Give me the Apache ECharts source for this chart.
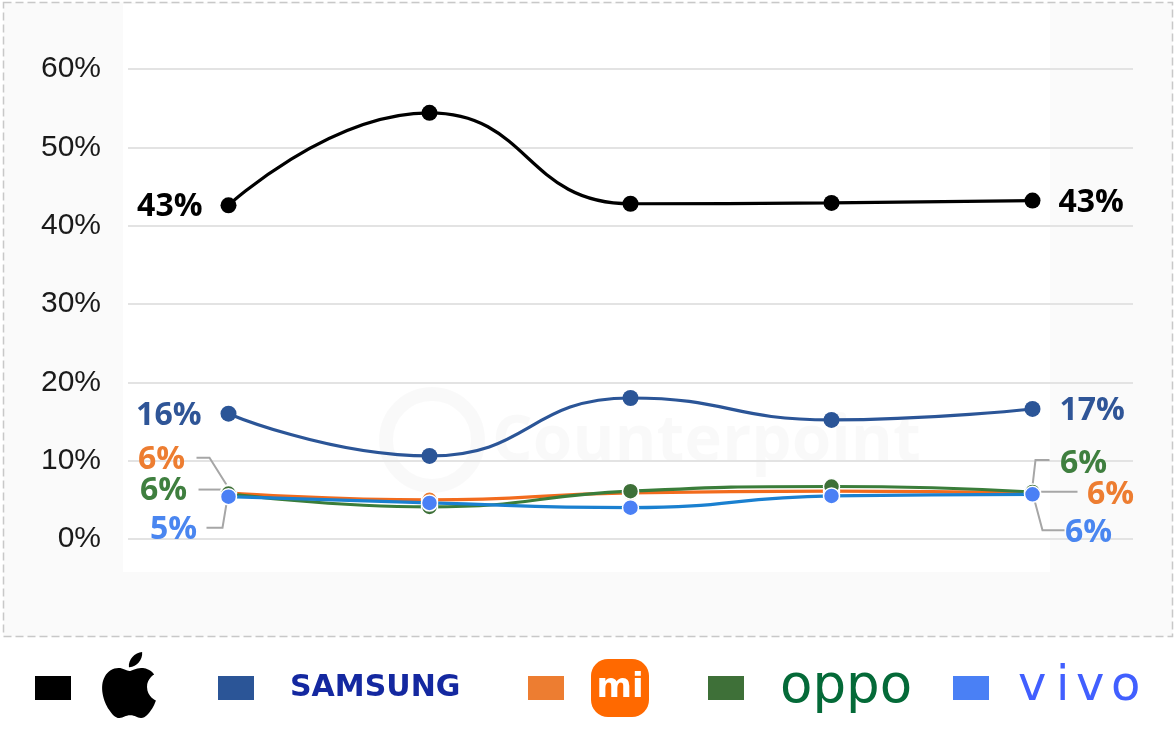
<!DOCTYPE html>
<html>
<head>
<meta charset="utf-8">
<script src="https://cdn.jsdelivr.net/npm/echarts@6/dist/echarts.min.js"></script>
<style>
html,body{margin:0;padding:0;background:#fff;}
#chart{width:1176px;height:754px;}
</style>
</head>
<body>
<div id="chart"></div>
<script>
// ---- data ----
const categories = ['P1', 'P2', 'P3', 'P4', 'P5'];
const appleShare   = [42.6, 54.4, 42.8, 42.9, 43.2];
const samsungShare = [16.0, 10.6, 18.0, 15.2, 16.6];
const xiaomiShare  = [5.9, 5.0, 5.9, 6.1, 5.9];
const oppoShare    = [5.8, 4.1, 6.1, 6.7, 6.0];
const vivoShare    = [5.4, 4.6, 4.0, 5.5, 5.7];
const brandNames   = ['Apple', 'Samsung', 'Xiaomi', 'OPPO', 'vivo'];
const yMin = 0, yMax = 60, yStep = 10;

// ---- styling ----
const labelFont = { fontFamily: 'Open Sans', fontWeight: 'bold', fontSize: 32 };
// label offsets and leader-line elbows, relative to the marker centre
const leaders = {
  Xiaomi: {
    left:  { dx: -67, dy: -33, line: [[-2, -8], [-19, -35], [-32, -35]] },
    right: { dx: 78, dy: 2, line: [[6, -1], [25, -1], [45, -1]] }
  },
  OPPO: {
    left:  { dx: -65, dy: -3, line: [[-6, -4], [-15, -4], [-30, -4]] },
    right: { dx: 51, dy: -28, line: [[0, -6], [3, -32], [17, -32]] }
  },
  vivo: {
    left:  { dx: -55, dy: 33, line: [[-2, 7], [-6, 31], [-22, 31]] },
    right: { dx: 56, dy: 39, line: [[2, 6], [10, 36], [32, 36]] }
  }
};

function layoutFor(key) {
  return function (p) {
    const cfg = leaders[key][p.dataIndex === 0 ? 'left' : 'right'];
    const cx = p.rect.x + p.rect.width / 2;
    const cy = p.rect.y + p.rect.height / 2;
    return { x: cx + cfg.dx, y: cy + cfg.dy, align: 'center', verticalAlign: 'middle' };
  };
}

function endLabels(values, color, distance) {
  const last = values.length - 1;
  return values.map((v, i) => ({
    value: v,
    label: (i === 0 || i === last) ? {
      show: true, position: i === 0 ? 'left' : 'right', distance: distance,
      color: color, ...labelFont, offset: [0, 2], formatter: p => Math.round(p.value) + '%'
    } : { show: false }
  }));
}

function leaderLabels(values, color) {
  const last = values.length - 1;
  return values.map((v, i) => ({
    value: v,
    label: (i === 0 || i === last) ? {
      show: true, color: color, ...labelFont, formatter: p => Math.round(p.value) + '%'
    } : { show: false }
  }));
}

function lineSeries(name, data, color, lineColor, extra) {
  return Object.assign({
    name: name, type: 'line', smooth: 0.5, data: data,
    symbol: 'circle', symbolSize: 16,
    itemStyle: { color: color, borderColor: '#fff', borderWidth: 1.5 },
    lineStyle: { color: lineColor, width: 3.2 },
    emphasis: { disabled: true }
  }, extra || {});
}

const applePath = 'M12.152 6.896c-.948 0-2.415-1.078-3.96-1.04-2.04.027-3.91 1.183-4.961 3.014-2.117 3.675-.546 9.103 1.519 12.09 1.013 1.454 2.208 3.09 3.792 3.039 1.52-.065 2.09-.987 3.935-.987 1.831 0 2.35.987 3.96.948 1.637-.026 2.676-1.48 3.676-2.948 1.156-1.688 1.636-3.325 1.662-3.415-.039-.013-3.182-1.221-3.22-4.857-.026-3.04 2.48-4.494 2.597-4.559-1.429-2.09-3.623-2.324-4.39-2.376-2-.156-3.675 1.09-4.61 1.09zM15.53 3.83c.843-1.012 1.4-2.427 1.245-3.83-1.207.052-2.662.805-3.532 1.818-.78.896-1.454 2.338-1.273 3.714 1.338.104 2.715-.688 3.559-1.701';
echarts.graphic.registerShape('appleLogo', echarts.graphic.extendPath(applePath, {}));

const H = 58;
const legendBase = {
  top: 659, padding: 0, itemWidth: 36, itemHeight: 24, icon: 'rect', selectedMode: false,
  itemStyle: { borderWidth: 0 }
};
const tok = (o) => Object.assign({ height: H, lineHeight: H, verticalAlign: 'middle' }, o);
const vivoTok = (w) => tok({ width: w, align: 'left', fontFamily: 'DejaVu Sans', fontSize: 48, color: '#415FFF' });

const baseGraphic = [
  { id: 'bg', type: 'rect', z: -100, silent: true, shape: { x: 3.5, y: 2.5, width: 1169, height: 634 },
    style: { fill: '#FAFAFA', stroke: '#C8C8C8', lineWidth: 1.5, lineDash: [8, 4] } },
  { id: 'plotbg', type: 'rect', z: -99, silent: true, shape: { x: 123, y: 4, width: 927, height: 568 }, style: { fill: '#ffffff' } },
  { id: 'wmring', type: 'circle', z: -98, silent: true, shape: { cx: 432, cy: 440, r: 46 },
    style: { fill: 'none', stroke: 'rgba(0,0,0,0.025)', lineWidth: 14 } },
  { id: 'wmtext', type: 'text', z: -98, silent: true, x: 492, y: 443,
    style: { text: 'Counterpoint', fill: 'rgba(0,0,0,0.025)', font: 'bold 64px "Open Sans"', verticalAlign: 'middle' } },
  { id: 'apple', type: 'appleLogo', silent: true, x: 96, y: 652, scaleX: 2.75, scaleY: 2.75,
    style: { fill: '#000' } }
];

const chart = echarts.init(document.getElementById('chart'), null, { renderer: 'canvas' });
chart.setOption({
  animation: false,
  backgroundColor: '#ffffff',
  grid: { left: 128, right: 43, top: 69, bottom: 215, containLabel: false },
  xAxis: {
    type: 'category', data: categories, boundaryGap: true,
    axisLine: { show: false }, axisTick: { show: false }, axisLabel: { show: false },
    splitLine: { show: false }
  },
  yAxis: {
    type: 'value', min: yMin, max: yMax, interval: yStep,
    axisLine: { show: false }, axisTick: { show: false },
    axisLabel: { formatter: '{value}%', fontFamily: 'Liberation Sans', fontSize: 30, color: '#1a1a1a', margin: 27 },
    splitLine: { lineStyle: { color: '#E3E3E3', width: 2 } }
  },
  legend: [
    Object.assign({}, legendBase, { left: 35, data: [brandNames[0]], formatter: '{s|}',
      textStyle: { rich: { s: tok({ width: 60 }) } } }),
    Object.assign({}, legendBase, { left: 218, data: [brandNames[1]], formatter: '{s|}{t|SAMSUNG}',
      textStyle: { rich: { s: tok({ width: 31 }), t: tok({ fontFamily: 'DejaVu Sans', fontWeight: 'bold', fontSize: 30, color: '#1428A0' }) } } }),
    Object.assign({}, legendBase, { left: 528, data: [brandNames[2]], formatter: '{s|}{t|mi}',
      textStyle: { rich: { s: tok({ width: 22 }), t: tok({ width: 58, align: 'center', backgroundColor: '#FF6900', borderRadius: 17, color: '#fff', fontFamily: 'DejaVu Sans', fontWeight: 'bold', fontSize: 34 }) } } }),
    Object.assign({}, legendBase, { left: 708, data: [brandNames[3]], formatter: '{s|}{t|oppo}',
      textStyle: { rich: { s: tok({ width: 31 }), t: tok({ fontFamily: 'DejaVu Sans', fontSize: 53, color: '#046A38' }) } } }),
    Object.assign({}, legendBase, { left: 953, data: [brandNames[4]], formatter: '{s|}{a|v}{b|i}{c|v}{d|o}',
      textStyle: { rich: { s: tok({ width: 24 }), a: vivoTok(38), b: vivoTok(20), c: vivoTok(35), d: vivoTok(34) } } })
  ],
  graphic: baseGraphic,
  series: [
    lineSeries(brandNames[0], endLabels(appleShare, '#000', 18), '#000', '#000',
      { itemStyle: { color: '#000', borderWidth: 0 } }),
    lineSeries(brandNames[1], endLabels(samsungShare, '#2F5597', 19), '#2B5597', '#2B5597',
      { itemStyle: { color: '#2B5597', borderWidth: 0 } }),
    lineSeries(brandNames[2], leaderLabels(xiaomiShare, '#ED7D31'), '#ED7D31', '#F26B1D',
      { labelLayout: layoutFor('Xiaomi') }),
    lineSeries(brandNames[3], leaderLabels(oppoShare, '#3F7F3F'), '#3E7038', '#3A7D3A',
      { labelLayout: layoutFor('OPPO') }),
    lineSeries(brandNames[4], leaderLabels(vivoShare, '#4A86F0'), '#4A80F5', '#1A80D0',
      { labelLayout: layoutFor('vivo') })
  ]
});

// leader lines from each end label to its marker, positioned via the chart's own scales
const leaderSeries = [[2, 'Xiaomi', xiaomiShare], [3, 'OPPO', oppoShare], [4, 'vivo', vivoShare]];
const leaderGraphics = [];
leaderSeries.forEach(([si, key, vals]) => {
  [0, vals.length - 1].forEach((idx) => {
    const pt = chart.convertToPixel({ seriesIndex: si }, [idx, vals[idx]]);
    const cfg = leaders[key][idx === 0 ? 'left' : 'right'];
    leaderGraphics.push({
      id: 'leader-' + key + '-' + idx, type: 'polyline', z: 1, silent: true,
      shape: { points: cfg.line.map(q => [pt[0] + q[0], pt[1] + q[1]]) },
      style: { stroke: '#A6A6A6', lineWidth: 2, fill: null }
    });
  });
});
chart.setOption({ graphic: baseGraphic.concat(leaderGraphics) });
</script>
</body>
</html>
